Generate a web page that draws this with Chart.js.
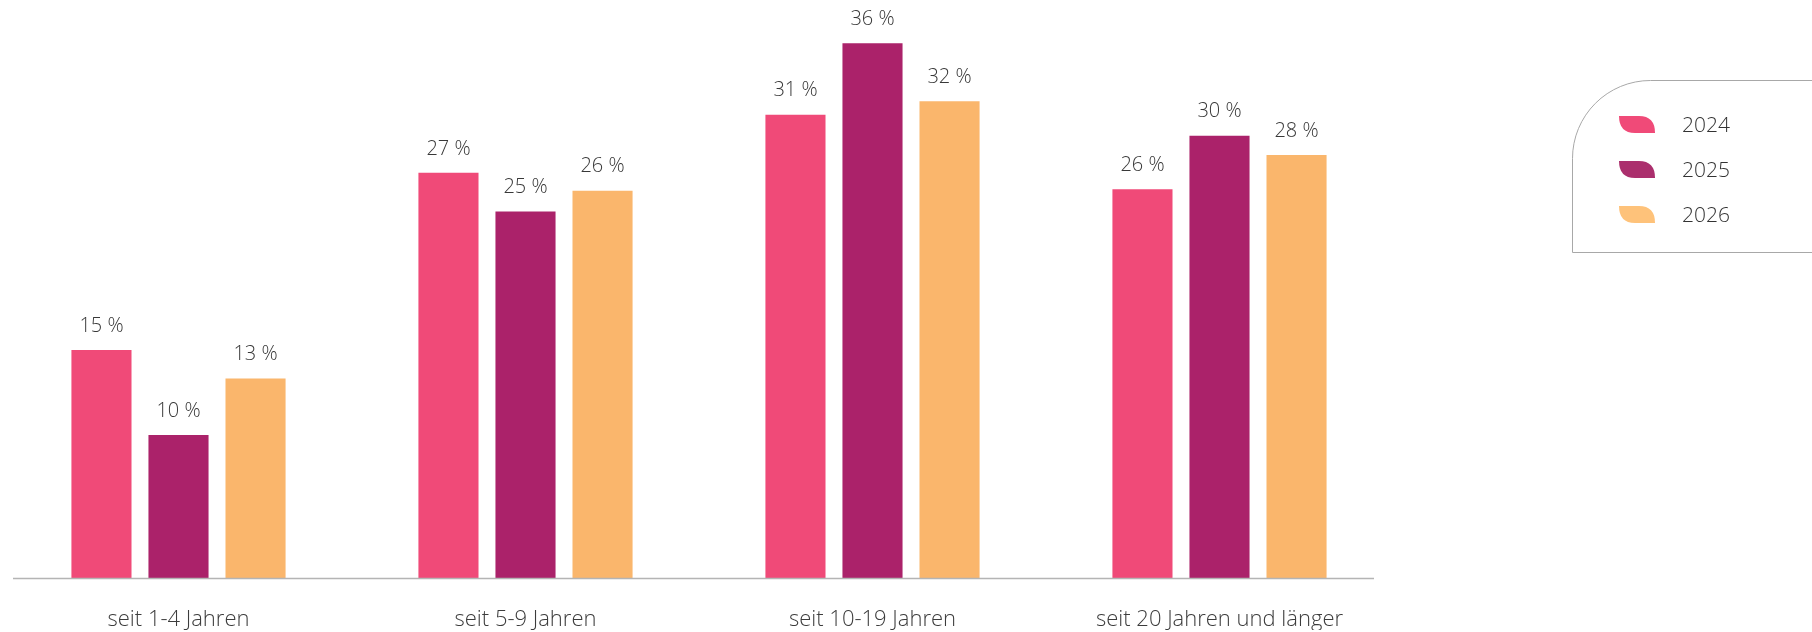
<!DOCTYPE html>
<html lang="de">
  <head>
    <meta charset="UTF-8" />
    <title>Dauer</title>
    <script src="https://cdn.jsdelivr.net/npm/chart.js"></script>
    <style>
      html, body { margin: 0; padding: 0; background: #fff; }
      #wrap { width: 1812px; height: 632px; position: relative; }
    </style>
  </head>
  <body>
    <div id="wrap"><canvas id="myChart" width="1812" height="632"></canvas></div>
    <script>
      // Daten
      var categories = ["seit 1-4 Jahren", "seit 5-9 Jahren", "seit 10-19 Jahren", "seit 20 Jahren und länger"];
      var years = ["2024", "2025", "2026"];
      var values2024 = [15.3, 27.2, 31.1, 26.1];
      var values2025 = [9.6, 24.6, 35.9, 29.7];
      var values2026 = [13.4, 26.0, 32.0, 28.4];
      var shownLabels = [
        [15, 27, 31, 26],
        [10, 25, 36, 30],
        [13, 26, 32, 28]
      ];
      var colors = ["#f04a78", "#ab226a", "#fab66c"];
      var legendColors = ["#f04a78", "#ab2f6d", "#fec27a"];

      var fontFamily = "'Open Sans', 'Noto Sans', sans-serif";

      // Beschriftung über den Balken
      var valueLabels = {
        id: "valueLabels",
        afterDatasetsDraw: function (chart) {
          var ctx = chart.ctx;
          ctx.save();
          ctx.font = "300 20px " + fontFamily;
          ctx.fillStyle = "#383838";
          ctx.textAlign = "center";
          ctx.textBaseline = "middle";
          chart.data.datasets.forEach(function (ds, i) {
            chart.getDatasetMeta(i).data.forEach(function (bar, j) {
              ctx.fillText(shownLabels[i][j] + " %", bar.x, bar.y - 24);
            });
          });
          ctx.restore();
        }
      };

      // Grundlinie
      var baseLine = {
        id: "baseLine",
        afterDatasetsDraw: function (chart) {
          var a = chart.chartArea;
          var ctx = chart.ctx;
          ctx.save();
          ctx.strokeStyle = "#b4b4b4";
          ctx.lineWidth = 1.5;
          ctx.beginPath();
          ctx.moveTo(a.left + 8, a.bottom + 0.5);
          ctx.lineTo(a.right - 19, a.bottom + 0.5);
          ctx.stroke();
          ctx.restore();
        }
      };

      // Legende rechts im abgerundeten Kasten
      var sideLegend = {
        id: "sideLegend",
        afterDraw: function (chart) {
          var ctx = chart.ctx;
          ctx.save();
          var x0 = 1572.5, y0 = 80.5, x1 = 1830, y1 = 252.5, r = 78;
          ctx.strokeStyle = "#a8a8a8";
          ctx.lineWidth = 1;
          ctx.beginPath();
          ctx.moveTo(x1, y0);
          ctx.lineTo(x0 + r, y0);
          ctx.arcTo(x0, y0, x0, y0 + r, r);
          ctx.lineTo(x0, y1);
          ctx.lineTo(x1, y1);
          ctx.stroke();

          chart.data.datasets.forEach(function (ds, i) {
            var cy = 125 + i * 45;
            var lx = 1619, ly = cy - 9, w = 36, h = 17;
            ctx.fillStyle = legendColors[i];
            ctx.beginPath();
            ctx.moveTo(lx, ly);
            ctx.lineTo(lx + w - 16, ly);
            ctx.quadraticCurveTo(lx + w, ly, lx + w, ly + h);
            ctx.lineTo(lx + 16, ly + h);
            ctx.quadraticCurveTo(lx, ly + h, lx, ly);
            ctx.closePath();
            ctx.fill();

            ctx.fillStyle = "#333";
            ctx.font = "300 21px " + fontFamily;
            ctx.textAlign = "left";
            ctx.textBaseline = "middle";
            ctx.fillText(ds.label, 1682, cy + 1);
          });
          ctx.restore();
        }
      };

      var ctx = document.getElementById("myChart").getContext("2d");
      new Chart(ctx, {
        type: "bar",
        data: {
          labels: categories,
          datasets: [
            { label: years[0], data: values2024, backgroundColor: colors[0] },
            { label: years[1], data: values2025, backgroundColor: colors[1] },
            { label: years[2], data: values2026, backgroundColor: colors[2] }
          ]
        },
        options: {
          responsive: false,
          animation: false,
          layout: { padding: { left: 5, right: 419, top: 12, bottom: 2 } },
          datasets: { bar: { barPercentage: 0.78, categoryPercentage: 0.666 } },
          plugins: { legend: { display: false }, tooltip: { enabled: false } },
          scales: {
            x: {
              grid: { display: false, drawTicks: false },
              border: { display: false },
              afterFit: function (scale) { scale.height = 52; },
              ticks: {
                color: "#3c3c3c",
                padding: 29,
                font: { family: fontFamily, size: 22, weight: "300" }
              }
            },
            y: {
              display: false,
              min: 0,
              max: 38
            }
          }
        },
        plugins: [valueLabels, baseLine, sideLegend]
      });
    </script>
  </body>
</html>
